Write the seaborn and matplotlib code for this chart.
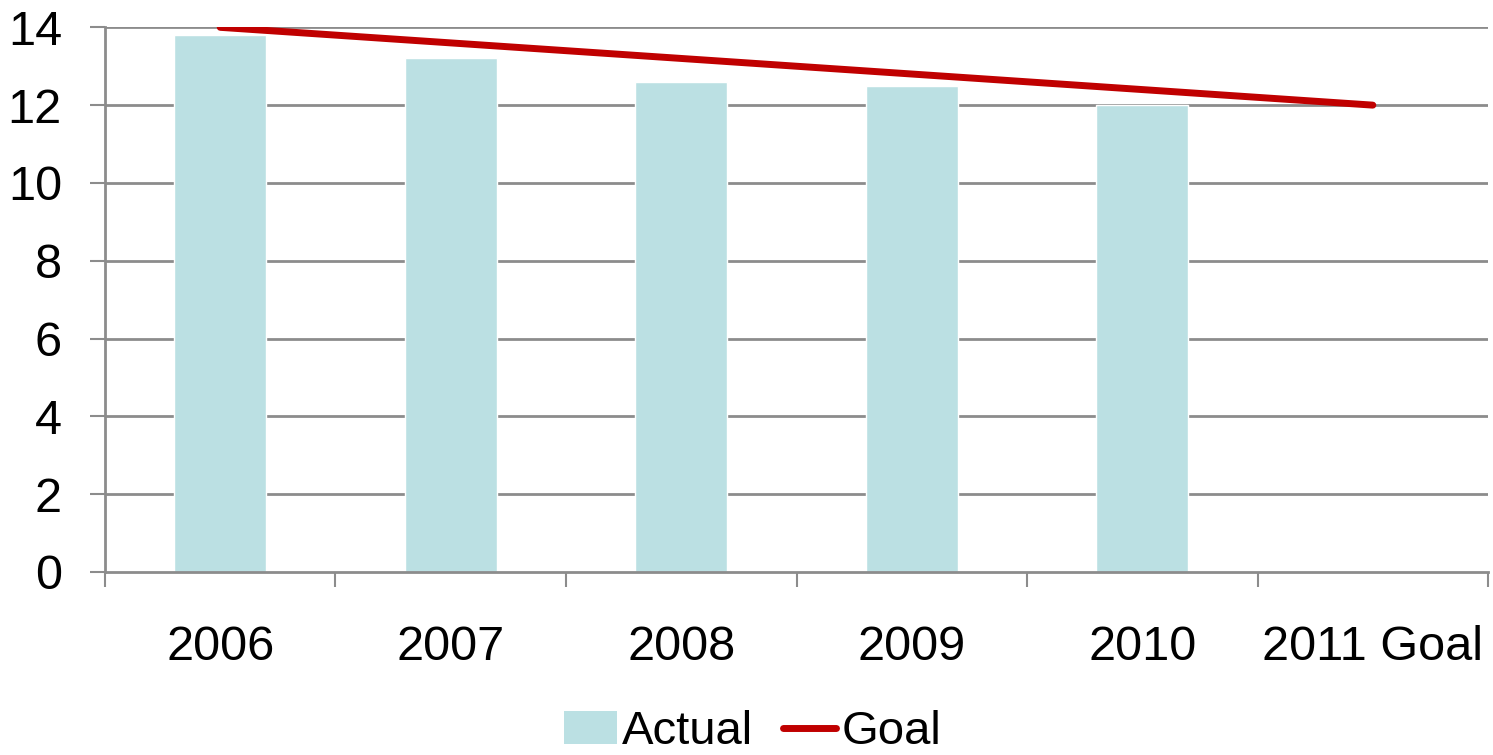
import numpy as np
import pandas as pd
import matplotlib
matplotlib.use("Agg")
import matplotlib.pyplot as plt
from matplotlib.patches import Patch
from matplotlib.lines import Line2D
from matplotlib.ticker import FixedLocator, NullFormatter, FixedFormatter
import seaborn as sns

categories = ["2006", "2007", "2008", "2009", "2010", "2011 Goal"]
actual = [13.8, 13.2, 12.6, 12.5, 12.0, np.nan]
goal = [14.0, 13.6, 13.2, 12.8, 12.4, 12.0]
y_ticks = [0, 2, 4, 6, 8, 10, 12, 14]

bar_color = "#BBE0E3"
line_color = "#C00000"
grid_color = "#8C8C8C"

sns.set_theme(style="white")
plt.rcParams["font.family"] = ["Liberation Sans", "DejaVu Sans"]
plt.rcParams["text.color"] = "black"
plt.rcParams["xtick.labelcolor"] = "black"
plt.rcParams["ytick.labelcolor"] = "black"

df = pd.DataFrame({"Year": categories, "Actual": actual, "Goal": goal})

fig = plt.figure(figsize=(14.93, 7.55), dpi=100)
ax = fig.add_axes([0.0703, 0.2424, 0.9264, 0.7214])

sns.barplot(data=df, x="Year", y="Actual", order=categories, color=bar_color,
            saturation=1, width=0.4, ax=ax, zorder=2)
sns.lineplot(data=df, x="Year", y="Goal", color=line_color, linewidth=5,
             ax=ax, zorder=3, solid_capstyle="round")

ax.set_xlim(-0.5, len(categories) - 0.5)
ax.set_ylim(0, 14)
ax.set_xlabel("")
ax.set_ylabel("")

# horizontal gridlines
ax.set_yticks(y_ticks)
ax.set_yticklabels([str(t) for t in y_ticks], fontsize=35, color="black")
for t in y_ticks[1:]:
    ax.axhline(t, color=grid_color, linewidth=2, zorder=1)

# category boundaries as major ticks, labels at category centres
n = len(categories)
ax.xaxis.set_major_locator(FixedLocator(np.arange(-0.5, n, 1.0)))
ax.xaxis.set_major_formatter(NullFormatter())
ax.xaxis.set_minor_locator(FixedLocator(np.arange(n)))
ax.xaxis.set_minor_formatter(FixedFormatter(categories))
ax.tick_params(axis="x", which="major", direction="out", length=11, width=1.5,
               color=grid_color, bottom=True)
ax.tick_params(axis="x", which="minor", length=0, pad=38, labelsize=35,
               labelcolor="black", bottom=True)
ax.tick_params(axis="y", direction="out", length=11, width=1.5,
               color=grid_color, pad=20, left=True, labelcolor="black")

for side in ["top", "right"]:
    ax.spines[side].set_visible(False)
for side in ["left", "bottom"]:
    ax.spines[side].set_color(grid_color)
    ax.spines[side].set_linewidth(2)

handles = [Patch(facecolor=bar_color, edgecolor="none"),
           Line2D([0], [0], color=line_color, linewidth=5, solid_capstyle="round")]
leg = fig.legend(handles, ["Actual", "Goal"], loc="center",
                 bbox_to_anchor=(0.504, 0.03), ncol=2, frameon=False,
                 fontsize=34, handlelength=1.12, handletextpad=0.12,
                 columnspacing=0.62, borderaxespad=0)
for txt in leg.get_texts():
    txt.set_color("black")

fig.savefig("out.png", dpi=100)
